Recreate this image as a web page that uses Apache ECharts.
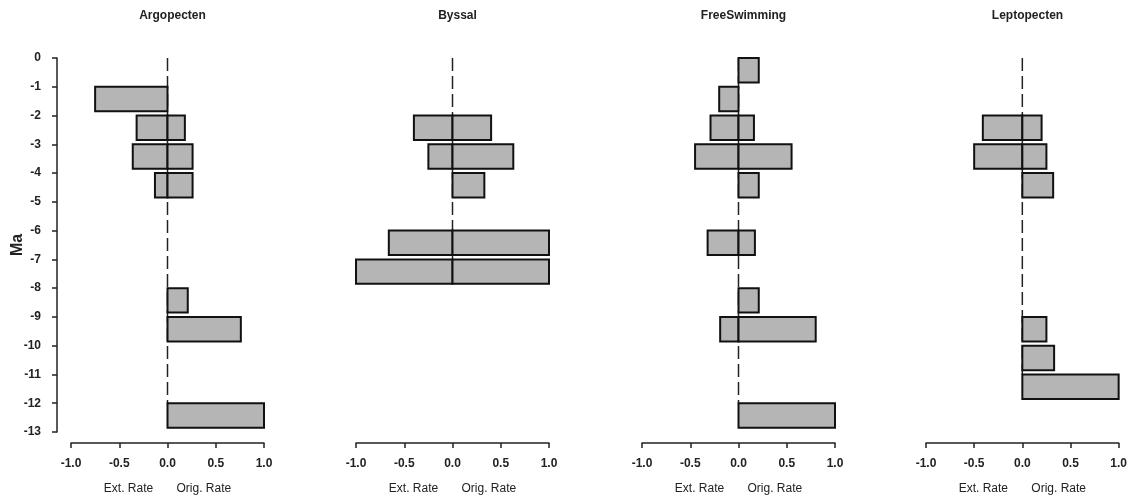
<!DOCTYPE html>
<html lang="en">
<head>
    <meta charset="utf-8">
    <title>Ext / Orig rates</title>
    <script src="https://cdn.jsdelivr.net/npm/echarts@6/dist/echarts.min.js"></script>
    <style>
        html, body { margin: 0; padding: 0; background: #fff; }
        #container { width: 1130px; height: 502px; }
    </style>
</head>
<body>
<div id="container"></div>
<script type="text/javascript">
    // interval tops in Ma (bar k covers -k .. -(k+1))
    var maTops = [0, 1, 2, 3, 4, 5, 6, 7, 8, 9, 10, 11, 12];

    var taxa = ['Argopecten', 'Byssal', 'FreeSwimming', 'Leptopecten'];

    var argopectenExt  = [0, 0.75, 0.32, 0.36, 0.13, 0, 0, 0, 0, 0, 0, 0, 0];
    var argopectenOrig = [0, 0, 0.18, 0.26, 0.26, 0, 0, 0, 0.21, 0.76, 0, 0, 1.0];

    var byssalExt  = [0, 0, 0.40, 0.25, 0, 0, 0.66, 1.0, 0, 0, 0, 0, 0];
    var byssalOrig = [0, 0, 0.40, 0.63, 0.33, 0, 1.0, 1.0, 0, 0, 0, 0, 0];

    var freeSwimmingExt  = [0, 0.20, 0.29, 0.45, 0, 0, 0.32, 0, 0, 0.19, 0, 0, 0];
    var freeSwimmingOrig = [0.21, 0, 0.16, 0.55, 0.21, 0, 0.17, 0, 0.21, 0.80, 0, 0, 1.0];

    var leptopectenExt  = [0, 0, 0.41, 0.50, 0, 0, 0, 0, 0, 0, 0, 0, 0];
    var leptopectenOrig = [0, 0, 0.20, 0.25, 0.32, 0, 0, 0, 0, 0.25, 0.33, 1.0, 0];

    var extSets = [argopectenExt, byssalExt, freeSwimmingExt, leptopectenExt];
    var origSets = [argopectenOrig, byssalOrig, freeSwimmingOrig, leptopectenOrig];

    var gridLefts = [71, 356, 642, 926];
    var gridW = 193;
    var gridTop = 58, gridH = 374;
    var barFrac = 0.85;

    var dom = document.getElementById('container');
    var myChart = echarts.init(dom, null, { renderer: 'canvas' });

    var fontFam = '"Liberation Sans", Arial, sans-serif';

    var grids = [], xAxes = [], yAxes = [], series = [], titles = [];

    taxa.forEach(function (name, i) {
        grids.push({ left: gridLefts[i], top: gridTop, width: gridW, height: gridH });

        titles.push({
            text: name,
            left: gridLefts[i] + gridW / 2,
            top: 5,
            textAlign: 'center',
            textStyle: { fontSize: 12, fontWeight: 'bold', color: '#222', fontFamily: fontFam }
        });

        xAxes.push({
            gridIndex: i,
            type: 'value',
            min: -1, max: 1, interval: 0.5,
            offset: 11,
            position: 'bottom',
            name: 'Ext. Rate       Orig. Rate',
            nameLocation: 'middle',
            nameGap: 40,
            nameTextStyle: { fontSize: 12, color: '#222', fontFamily: fontFam },
            axisLine: { show: true, onZero: false, lineStyle: { color: '#222', width: 1.5 } },
            axisTick: { show: true, inside: false, length: 5, lineStyle: { color: '#222', width: 1.5 } },
            axisLabel: {
                margin: 15, fontSize: 12, fontWeight: 'bold', color: '#222', fontFamily: fontFam,
                formatter: function (v) { return v.toFixed(1); }
            },
            splitLine: { show: false }
        });

        yAxes.push({
            gridIndex: i,
            type: 'value',
            min: -13, max: 0, interval: 1,
            offset: 14,
            position: 'left',
            show: i === 0,
            name: i === 0 ? 'Ma' : '',
            nameLocation: 'middle',
            nameGap: 31,
            nameMoveOverlap: false,
            nameRotate: 90,
            nameTextStyle: { fontSize: 16, fontWeight: 'bold', color: '#222', fontFamily: fontFam },
            axisLine: { show: true, onZero: false, lineStyle: { color: '#222', width: 1.5 } },
            axisTick: { show: true, length: 5, lineStyle: { color: '#222', width: 1.5 } },
            axisLabel: { margin: 16, fontSize: 12, fontWeight: 'bold', color: '#222', fontFamily: fontFam },
            splitLine: { show: false }
        });

        var ext = extSets[i], orig = origSets[i];
        var barData = [];
        var lastTop = 0;
        maTops.forEach(function (t, k) {
            if (ext[k] > 0 || orig[k] > 0) {
                barData.push([t, ext[k], orig[k]]);
                lastTop = t;
            }
        });

        // dashed zero line down to the top of the last bar
        series.push({
            type: 'line',
            xAxisIndex: i, yAxisIndex: i,
            data: [[0, 0], [0, -lastTop]],
            symbol: 'none',
            silent: true,
            z: 1,
            lineStyle: { color: '#222', width: 1.5, type: [13, 5] }
        });

        series.push({
            type: 'custom',
            xAxisIndex: i, yAxisIndex: i,
            z: 2,
            data: barData,
            renderItem: function (params, api) {
                var top = api.value(0), e = api.value(1), o = api.value(2);
                var children = [];
                var style = { fill: '#b5b5b5', stroke: '#111', lineWidth: 2 };
                if (e > 0) {
                    var p1 = api.coord([-e, -top]);
                    var p2 = api.coord([0, -(top + barFrac)]);
                    children.push({ type: 'rect', shape: { x: p1[0], y: p1[1], width: p2[0] - p1[0], height: p2[1] - p1[1] }, style: style });
                }
                if (o > 0) {
                    var q1 = api.coord([0, -top]);
                    var q2 = api.coord([o, -(top + barFrac)]);
                    children.push({ type: 'rect', shape: { x: q1[0], y: q1[1], width: q2[0] - q1[0], height: q2[1] - q1[1] }, style: style });
                }
                return { type: 'group', children: children };
            }
        });
    });

    var option = {
        backgroundColor: '#fff',
        animation: false,
        title: titles,
        grid: grids,
        xAxis: xAxes,
        yAxis: yAxes,
        series: series
    };
    myChart.setOption(option);
</script>
</body>
</html>
